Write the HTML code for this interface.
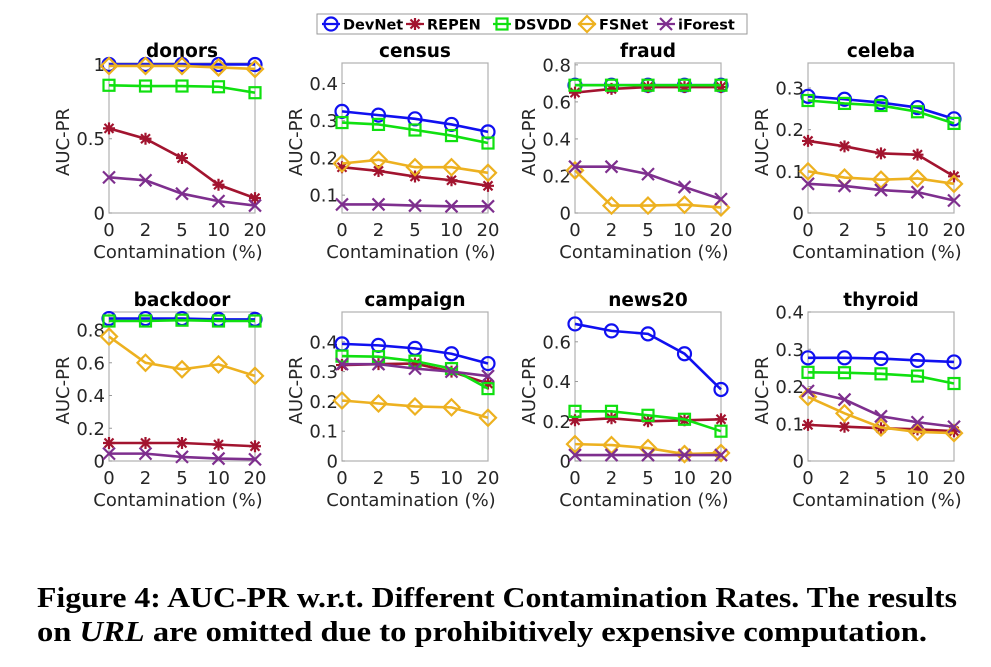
<!DOCTYPE html>
<html><head><meta charset="utf-8"><style>
body{margin:0;background:#fff;width:991px;height:667px;overflow:hidden}
svg{display:block}
</style></head><body>
<svg id="fig" width="991" height="667" viewBox="0 0 991 667" xmlns="http://www.w3.org/2000/svg">
<g id="legend"></g>
<g id="panels"></g>
<text x="37" y="607" font-family="Liberation Serif, serif" font-weight="bold" font-size="28" textLength="920" lengthAdjust="spacingAndGlyphs">Figure 4: AUC-PR w.r.t. Different Contamination Rates. The results</text>
<text x="37" y="641" font-family="Liberation Serif, serif" font-weight="bold" font-size="28" textLength="890" lengthAdjust="spacingAndGlyphs">on <tspan font-style="italic">URL</tspan> are omitted due to prohibitively expensive computation.</text>
</svg>
<script>
const categories = ["0","2","5","10","20"];
const methods = ["DevNet","REPEN","DSVDD","FSNet","iForest"];
const datasets = ["donors","census","fraud","celeba","backdoor","campaign","news20","thyroid"];
const devnet  = [[1,1,1,1,1],[.325,.315,.305,.29,.27],[.69,.69,.69,.69,.69],[.28,.273,.265,.253,.226],[.87,.87,.87,.865,.865],[.393,.388,.378,.36,.327],[.69,.655,.64,.54,.36],[.277,.277,.275,.27,.266]];
const repen   = [[.57,.5,.37,.19,.1],[.175,.165,.15,.14,.125],[.65,.67,.68,.68,.68],[.173,.16,.143,.14,.088],[.11,.11,.11,.1,.09],[.322,.325,.327,.3,.26],[.205,.215,.2,.205,.21],[.097,.092,.088,.085,.08]];
const dsvdd   = [[.86,.855,.855,.85,.81],[.295,.29,.275,.26,.24],[.69,.69,.69,.69,.69],[.27,.263,.258,.243,.215],[.855,.855,.86,.855,.855],[.352,.35,.335,.31,.243],[.25,.25,.23,.21,.15],[.238,.237,.234,.228,.208]];
const fsnet   = [[.99,.99,.99,.98,.97],[.185,.195,.175,.175,.16],[.23,.04,.04,.045,.03],[.1,.085,.08,.083,.07],[.76,.6,.56,.59,.52],[.203,.193,.183,.18,.145],[.085,.08,.065,.035,.04],[.172,.128,.09,.078,.075]];
const iforest = [[.24,.22,.13,.08,.05],[.075,.075,.072,.07,.07],[.25,.25,.21,.14,.075],[.07,.065,.055,.05,.03],[.045,.045,.025,.015,.01],[.325,.325,.31,.3,.285],[.03,.03,.03,.03,.03],[.188,.165,.12,.104,.092]];
const yTicks = [[0,0.5,1],[0.1,0.2,0.3,0.4],[0,0.2,0.4,0.6,0.8],[0,0.1,0.2,0.3],[0,0.2,0.4,0.6,0.8],[0,0.1,0.2,0.3,0.4],[0,0.2,0.4,0.6],[0,0.1,0.2,0.3,0.4]];
const yTickLabels = [["0","0.5","1"],["0.1","0.2","0.3","0.4"],["0","0.2","0.4","0.6","0.8"],["0","0.1","0.2","0.3"],["0","0.2","0.4","0.6","0.8"],["0","0.1","0.2","0.3","0.4"],["0","0.2","0.4","0.6"],["0","0.1","0.2","0.3","0.4"]];
const yMin = [0,0.052,0,0,0,0,0,0];
const yMax = [1.01,0.455,0.81,0.36,0.91,0.5,0.75,0.4];

const NS="http://www.w3.org/2000/svg";
const colors=["#1010f0","#a2142f","#10e010","#edb120","#7e2f8e"];
const markers=["circle","star","square","diamond","x"];
const series=[devnet,repen,dsvdd,fsnet,iforest];
function mk(tag,attrs,parent){const e=document.createElementNS(NS,tag);for(const k in attrs)e.setAttribute(k,attrs[k]);if(parent)parent.appendChild(e);return e;}
function marker(type,x,y,c,g){
  const s={stroke:c,"stroke-width":2.2,fill:"none"};
  let e;
  if(type==="circle"){e=mk("circle",Object.assign({cx:x,cy:y,r:6.5},s),g);}
  else if(type==="square"){e=mk("rect",Object.assign({x:x-5.5,y:y-5.5,width:11,height:11},s),g);}
  else if(type==="diamond"){e=mk("path",Object.assign({d:`M${x},${y-8}L${x+8},${y}L${x},${y+8}L${x-8},${y}Z`},s),g);}
  else if(type==="x"){e=mk("path",Object.assign({d:`M${x-6},${y-6}L${x+6},${y+6}M${x-6},${y+6}L${x+6},${y-6}`},s),g);}
  else {e=mk("path",Object.assign({d:`M${x-6},${y}L${x+6},${y}M${x},${y-6}L${x},${y+6}M${x-4.5},${y-4.5}L${x+4.5},${y+4.5}M${x-4.5},${y+4.5}L${x+4.5},${y-4.5}`},s),g);}
  
  
}
const panels=document.getElementById('panels');
const lefts=[109,342,575,808];
const tops=[63,312], H=[150,149], W=146;
const font='DejaVu Sans, Liberation Sans, sans-serif';
datasets.forEach((name,i)=>{
  const L=lefts[i%4], T=tops[Math.floor(i/4)], h=H[Math.floor(i/4)];
  const g=mk("g",{},panels);
  
  
  const xs=k=>L+k*W/(categories.length-1);
  const ys=v=>T+h-(v-yMin[i])/(yMax[i]-yMin[i])*h;
  const box=mk("rect",{x:L,y:T,width:W,height:h,fill:"#fff",stroke:"#b0b0b0","stroke-width":1.2},g);
  
  
  const t=mk("text",{x:L+W/2,y:T-6,"text-anchor":"middle","font-family":font,"font-weight":"bold","font-size":18.5,fill:"#000"},g);
  t.textContent=name;
  
  
  yTicks[i].forEach((v,k)=>{
    const y=ys(v);
    mk("line",{x1:L,x2:L+3,y1:y,y2:y,stroke:"#999"},g);
    const tx=mk("text",{x:L-4,y:y+6.5,"text-anchor":"end","font-family":font,"font-size":18,fill:"#262626"},g);
    tx.textContent=yTickLabels[i][k];
    
    
  });
  categories.forEach((c,k)=>{
    const tx=mk("text",{x:xs(k),y:T+h+23,"text-anchor":"middle","font-family":font,"font-size":18,fill:"#262626"},g);
    tx.textContent=c;
    
    
  });
  const xl=mk("text",{x:L+W/2-4,y:T+h+45,"text-anchor":"middle","font-family":font,"font-size":18,fill:"#262626"},g);
  xl.textContent="Contamination (%)";
  
  
  const yl=mk("text",{x:0,y:0,"text-anchor":"middle","font-family":font,"font-size":18,fill:"#262626",transform:`translate(${L-40},${T+h/2+4}) rotate(-90)`},g);
  yl.textContent="AUC-PR";
  
  
  series.forEach((s,m)=>{
    const vals=s[i];
    const sg=mk("g",{},g);
    
    
    const p=mk("polyline",{points:vals.map((v,k)=>xs(k)+","+ys(v)).join(" "),fill:"none",stroke:colors[m],"stroke-width":2.6},sg);
    
    
    vals.forEach((v,k)=>marker(markers[m],xs(k),ys(v),colors[m],sg));
  });
});
const lg=document.getElementById('legend');
const lb=mk("rect",{x:317,y:14,width:430,height:20,fill:"#fff",stroke:"#999"},lg);


const lx=[322,406,493,578,657];
methods.forEach((m,k)=>{
  const g=mk("g",{},lg);
  
  
  mk("line",{x1:lx[k],x2:lx[k]+18,y1:24,y2:24,stroke:colors[k],"stroke-width":2.2},g);
  marker(markers[k],lx[k]+9,24,colors[k],g);
  const t=mk("text",{x:lx[k]+21,y:29.5,"font-family":font,"font-weight":"bold","font-size":14.5,fill:"#000"},g);
  t.textContent=m;
  
  
});
</script>
</body></html>
